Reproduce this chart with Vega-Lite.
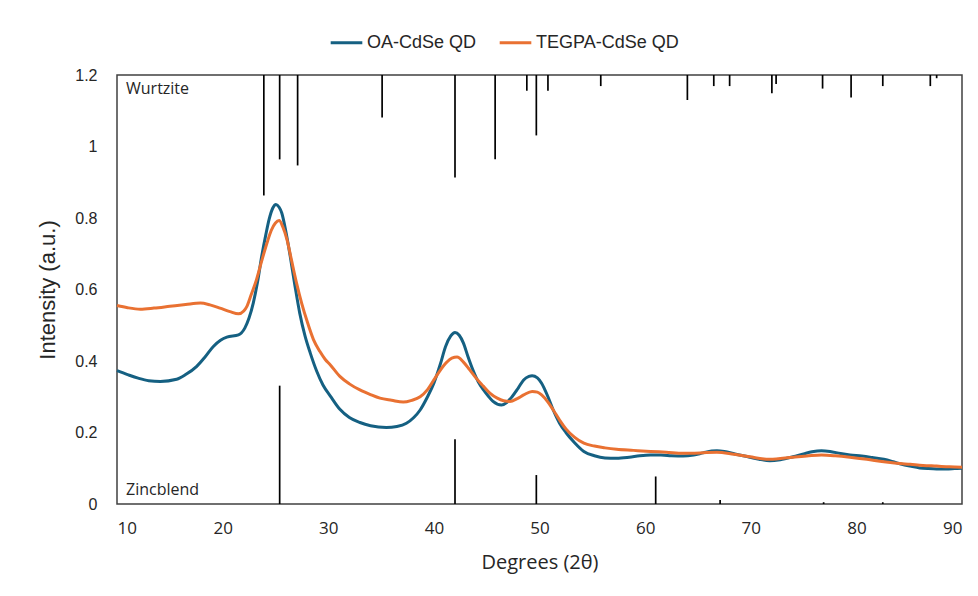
{
  "$schema": "https://vega.github.io/schema/vega-lite/v6.json",
  "width": 845,
  "height": 429,
  "autosize": {"type": "none"},
  "padding": {"left": 117, "top": 75, "right": 16, "bottom": 92},
  "background": "white",
  "config": {
    "view": {"stroke": "#404040", "strokeWidth": 1.5},
    "axis": {"grid": false, "ticks": false, "domain": false}
  },
  "datasets": {
    "curves": [
      {"series": "OA-CdSe QD", "deg": 10, "val": 0.373},
      {"series": "OA-CdSe QD", "deg": 11, "val": 0.362},
      {"series": "OA-CdSe QD", "deg": 12, "val": 0.352},
      {"series": "OA-CdSe QD", "deg": 13, "val": 0.345},
      {"series": "OA-CdSe QD", "deg": 14.1, "val": 0.343},
      {"series": "OA-CdSe QD", "deg": 15.65, "val": 0.349},
      {"series": "OA-CdSe QD", "deg": 16.5, "val": 0.362},
      {"series": "OA-CdSe QD", "deg": 17.55, "val": 0.385},
      {"series": "OA-CdSe QD", "deg": 18.3, "val": 0.41},
      {"series": "OA-CdSe QD", "deg": 19.1, "val": 0.44},
      {"series": "OA-CdSe QD", "deg": 19.8, "val": 0.458},
      {"series": "OA-CdSe QD", "deg": 20.4, "val": 0.467},
      {"series": "OA-CdSe QD", "deg": 21.5, "val": 0.473},
      {"series": "OA-CdSe QD", "deg": 22.1, "val": 0.492},
      {"series": "OA-CdSe QD", "deg": 22.5, "val": 0.52},
      {"series": "OA-CdSe QD", "deg": 22.9, "val": 0.562},
      {"series": "OA-CdSe QD", "deg": 23.3, "val": 0.62},
      {"series": "OA-CdSe QD", "deg": 23.7, "val": 0.693},
      {"series": "OA-CdSe QD", "deg": 24.1, "val": 0.755},
      {"series": "OA-CdSe QD", "deg": 24.4, "val": 0.796},
      {"series": "OA-CdSe QD", "deg": 24.75, "val": 0.828},
      {"series": "OA-CdSe QD", "deg": 25.05, "val": 0.838},
      {"series": "OA-CdSe QD", "deg": 25.35, "val": 0.83},
      {"series": "OA-CdSe QD", "deg": 25.6, "val": 0.814},
      {"series": "OA-CdSe QD", "deg": 26.0, "val": 0.76},
      {"series": "OA-CdSe QD", "deg": 26.4, "val": 0.693},
      {"series": "OA-CdSe QD", "deg": 26.85, "val": 0.61},
      {"series": "OA-CdSe QD", "deg": 27.3, "val": 0.534},
      {"series": "OA-CdSe QD", "deg": 27.8, "val": 0.47},
      {"series": "OA-CdSe QD", "deg": 28.3, "val": 0.422},
      {"series": "OA-CdSe QD", "deg": 28.9, "val": 0.372},
      {"series": "OA-CdSe QD", "deg": 29.5, "val": 0.333},
      {"series": "OA-CdSe QD", "deg": 30.2, "val": 0.302},
      {"series": "OA-CdSe QD", "deg": 31.1, "val": 0.265},
      {"series": "OA-CdSe QD", "deg": 32, "val": 0.242},
      {"series": "OA-CdSe QD", "deg": 33, "val": 0.228},
      {"series": "OA-CdSe QD", "deg": 34, "val": 0.219},
      {"series": "OA-CdSe QD", "deg": 35.5, "val": 0.214},
      {"series": "OA-CdSe QD", "deg": 36.5, "val": 0.217},
      {"series": "OA-CdSe QD", "deg": 37.4, "val": 0.226},
      {"series": "OA-CdSe QD", "deg": 38.1, "val": 0.242},
      {"series": "OA-CdSe QD", "deg": 38.7, "val": 0.263},
      {"series": "OA-CdSe QD", "deg": 39.4, "val": 0.3},
      {"series": "OA-CdSe QD", "deg": 40.0, "val": 0.338},
      {"series": "OA-CdSe QD", "deg": 40.6, "val": 0.39},
      {"series": "OA-CdSe QD", "deg": 41.1, "val": 0.44},
      {"series": "OA-CdSe QD", "deg": 41.6, "val": 0.47},
      {"series": "OA-CdSe QD", "deg": 42.0, "val": 0.48},
      {"series": "OA-CdSe QD", "deg": 42.4, "val": 0.472},
      {"series": "OA-CdSe QD", "deg": 42.8, "val": 0.45},
      {"series": "OA-CdSe QD", "deg": 43.2, "val": 0.415},
      {"series": "OA-CdSe QD", "deg": 43.7, "val": 0.375},
      {"series": "OA-CdSe QD", "deg": 44.2, "val": 0.342},
      {"series": "OA-CdSe QD", "deg": 44.7, "val": 0.319},
      {"series": "OA-CdSe QD", "deg": 45.2, "val": 0.3},
      {"series": "OA-CdSe QD", "deg": 45.6, "val": 0.287},
      {"series": "OA-CdSe QD", "deg": 46.4, "val": 0.277},
      {"series": "OA-CdSe QD", "deg": 46.9, "val": 0.284},
      {"series": "OA-CdSe QD", "deg": 47.4, "val": 0.3},
      {"series": "OA-CdSe QD", "deg": 48.0, "val": 0.325},
      {"series": "OA-CdSe QD", "deg": 48.5, "val": 0.347},
      {"series": "OA-CdSe QD", "deg": 49.0, "val": 0.357},
      {"series": "OA-CdSe QD", "deg": 49.3, "val": 0.359},
      {"series": "OA-CdSe QD", "deg": 49.8, "val": 0.353},
      {"series": "OA-CdSe QD", "deg": 50.2, "val": 0.338},
      {"series": "OA-CdSe QD", "deg": 50.8, "val": 0.3},
      {"series": "OA-CdSe QD", "deg": 51.3, "val": 0.263},
      {"series": "OA-CdSe QD", "deg": 51.9, "val": 0.226},
      {"series": "OA-CdSe QD", "deg": 52.5, "val": 0.2},
      {"series": "OA-CdSe QD", "deg": 53.3, "val": 0.172},
      {"series": "OA-CdSe QD", "deg": 54.2, "val": 0.147},
      {"series": "OA-CdSe QD", "deg": 55.2, "val": 0.135},
      {"series": "OA-CdSe QD", "deg": 56.2, "val": 0.129},
      {"series": "OA-CdSe QD", "deg": 57.3, "val": 0.128},
      {"series": "OA-CdSe QD", "deg": 58.5, "val": 0.131},
      {"series": "OA-CdSe QD", "deg": 59.5, "val": 0.135},
      {"series": "OA-CdSe QD", "deg": 60.5, "val": 0.137},
      {"series": "OA-CdSe QD", "deg": 61.5, "val": 0.137},
      {"series": "OA-CdSe QD", "deg": 62.5, "val": 0.135},
      {"series": "OA-CdSe QD", "deg": 63.6, "val": 0.134},
      {"series": "OA-CdSe QD", "deg": 64.6, "val": 0.137},
      {"series": "OA-CdSe QD", "deg": 65.5, "val": 0.143},
      {"series": "OA-CdSe QD", "deg": 66.3, "val": 0.148},
      {"series": "OA-CdSe QD", "deg": 66.8, "val": 0.149},
      {"series": "OA-CdSe QD", "deg": 67.5, "val": 0.147},
      {"series": "OA-CdSe QD", "deg": 68.5, "val": 0.14},
      {"series": "OA-CdSe QD", "deg": 69.9, "val": 0.131},
      {"series": "OA-CdSe QD", "deg": 70.8, "val": 0.125},
      {"series": "OA-CdSe QD", "deg": 71.8, "val": 0.121},
      {"series": "OA-CdSe QD", "deg": 72.8, "val": 0.124},
      {"series": "OA-CdSe QD", "deg": 74.0, "val": 0.132},
      {"series": "OA-CdSe QD", "deg": 75.0, "val": 0.14},
      {"series": "OA-CdSe QD", "deg": 75.8, "val": 0.146},
      {"series": "OA-CdSe QD", "deg": 76.7, "val": 0.149},
      {"series": "OA-CdSe QD", "deg": 77.5, "val": 0.147},
      {"series": "OA-CdSe QD", "deg": 78.5, "val": 0.141},
      {"series": "OA-CdSe QD", "deg": 79.4, "val": 0.137},
      {"series": "OA-CdSe QD", "deg": 80.5, "val": 0.134},
      {"series": "OA-CdSe QD", "deg": 81.5, "val": 0.13},
      {"series": "OA-CdSe QD", "deg": 82.6, "val": 0.125},
      {"series": "OA-CdSe QD", "deg": 83.5, "val": 0.118},
      {"series": "OA-CdSe QD", "deg": 84.3, "val": 0.111},
      {"series": "OA-CdSe QD", "deg": 85.1, "val": 0.106},
      {"series": "OA-CdSe QD", "deg": 86.0, "val": 0.101},
      {"series": "OA-CdSe QD", "deg": 86.8, "val": 0.099},
      {"series": "OA-CdSe QD", "deg": 87.6, "val": 0.098},
      {"series": "OA-CdSe QD", "deg": 88.5, "val": 0.098},
      {"series": "OA-CdSe QD", "deg": 89.3, "val": 0.099},
      {"series": "OA-CdSe QD", "deg": 90, "val": 0.1},
      {"series": "TEGPA-CdSe QD", "deg": 10, "val": 0.555},
      {"series": "TEGPA-CdSe QD", "deg": 11, "val": 0.549},
      {"series": "TEGPA-CdSe QD", "deg": 12.2, "val": 0.545},
      {"series": "TEGPA-CdSe QD", "deg": 13.5, "val": 0.548},
      {"series": "TEGPA-CdSe QD", "deg": 15.0, "val": 0.553},
      {"series": "TEGPA-CdSe QD", "deg": 16.5, "val": 0.558},
      {"series": "TEGPA-CdSe QD", "deg": 17.9, "val": 0.562},
      {"series": "TEGPA-CdSe QD", "deg": 18.8, "val": 0.557},
      {"series": "TEGPA-CdSe QD", "deg": 19.75, "val": 0.548},
      {"series": "TEGPA-CdSe QD", "deg": 20.7, "val": 0.538},
      {"series": "TEGPA-CdSe QD", "deg": 21.5, "val": 0.532},
      {"series": "TEGPA-CdSe QD", "deg": 22.0, "val": 0.54},
      {"series": "TEGPA-CdSe QD", "deg": 22.3, "val": 0.553},
      {"series": "TEGPA-CdSe QD", "deg": 22.7, "val": 0.585},
      {"series": "TEGPA-CdSe QD", "deg": 23.2, "val": 0.627},
      {"series": "TEGPA-CdSe QD", "deg": 23.7, "val": 0.68},
      {"series": "TEGPA-CdSe QD", "deg": 24.2, "val": 0.73},
      {"series": "TEGPA-CdSe QD", "deg": 24.6, "val": 0.765},
      {"series": "TEGPA-CdSe QD", "deg": 25.0, "val": 0.786},
      {"series": "TEGPA-CdSe QD", "deg": 25.35, "val": 0.793},
      {"series": "TEGPA-CdSe QD", "deg": 25.7, "val": 0.775},
      {"series": "TEGPA-CdSe QD", "deg": 26.1, "val": 0.739},
      {"series": "TEGPA-CdSe QD", "deg": 26.5, "val": 0.685},
      {"series": "TEGPA-CdSe QD", "deg": 27.0, "val": 0.618},
      {"series": "TEGPA-CdSe QD", "deg": 27.5, "val": 0.56},
      {"series": "TEGPA-CdSe QD", "deg": 28.0, "val": 0.511},
      {"series": "TEGPA-CdSe QD", "deg": 28.6, "val": 0.46},
      {"series": "TEGPA-CdSe QD", "deg": 29.2, "val": 0.427},
      {"series": "TEGPA-CdSe QD", "deg": 29.7, "val": 0.405},
      {"series": "TEGPA-CdSe QD", "deg": 30.2, "val": 0.389},
      {"series": "TEGPA-CdSe QD", "deg": 31.1, "val": 0.357},
      {"series": "TEGPA-CdSe QD", "deg": 32, "val": 0.336},
      {"series": "TEGPA-CdSe QD", "deg": 33.0, "val": 0.319},
      {"series": "TEGPA-CdSe QD", "deg": 34.0, "val": 0.306},
      {"series": "TEGPA-CdSe QD", "deg": 34.9, "val": 0.296},
      {"series": "TEGPA-CdSe QD", "deg": 36.0, "val": 0.29},
      {"series": "TEGPA-CdSe QD", "deg": 37.1, "val": 0.285},
      {"series": "TEGPA-CdSe QD", "deg": 37.9, "val": 0.29},
      {"series": "TEGPA-CdSe QD", "deg": 38.7, "val": 0.3},
      {"series": "TEGPA-CdSe QD", "deg": 39.4, "val": 0.32},
      {"series": "TEGPA-CdSe QD", "deg": 40.0, "val": 0.347},
      {"series": "TEGPA-CdSe QD", "deg": 40.6, "val": 0.374},
      {"series": "TEGPA-CdSe QD", "deg": 41.2, "val": 0.396},
      {"series": "TEGPA-CdSe QD", "deg": 41.7, "val": 0.408},
      {"series": "TEGPA-CdSe QD", "deg": 42.2, "val": 0.411},
      {"series": "TEGPA-CdSe QD", "deg": 42.8, "val": 0.397},
      {"series": "TEGPA-CdSe QD", "deg": 43.4, "val": 0.375},
      {"series": "TEGPA-CdSe QD", "deg": 44.0, "val": 0.352},
      {"series": "TEGPA-CdSe QD", "deg": 44.7, "val": 0.329},
      {"series": "TEGPA-CdSe QD", "deg": 45.3, "val": 0.31},
      {"series": "TEGPA-CdSe QD", "deg": 46.0, "val": 0.296},
      {"series": "TEGPA-CdSe QD", "deg": 46.6, "val": 0.289},
      {"series": "TEGPA-CdSe QD", "deg": 47.2, "val": 0.287},
      {"series": "TEGPA-CdSe QD", "deg": 47.9, "val": 0.295},
      {"series": "TEGPA-CdSe QD", "deg": 48.5, "val": 0.305},
      {"series": "TEGPA-CdSe QD", "deg": 49.3, "val": 0.315},
      {"series": "TEGPA-CdSe QD", "deg": 49.8, "val": 0.313},
      {"series": "TEGPA-CdSe QD", "deg": 50.2, "val": 0.305},
      {"series": "TEGPA-CdSe QD", "deg": 50.8, "val": 0.285},
      {"series": "TEGPA-CdSe QD", "deg": 51.3, "val": 0.263},
      {"series": "TEGPA-CdSe QD", "deg": 51.9, "val": 0.235},
      {"series": "TEGPA-CdSe QD", "deg": 52.5, "val": 0.21},
      {"series": "TEGPA-CdSe QD", "deg": 53.3, "val": 0.187},
      {"series": "TEGPA-CdSe QD", "deg": 54.2, "val": 0.17},
      {"series": "TEGPA-CdSe QD", "deg": 55.2, "val": 0.162},
      {"series": "TEGPA-CdSe QD", "deg": 56.2, "val": 0.157},
      {"series": "TEGPA-CdSe QD", "deg": 57.3, "val": 0.153},
      {"series": "TEGPA-CdSe QD", "deg": 58.9, "val": 0.15},
      {"series": "TEGPA-CdSe QD", "deg": 60.5, "val": 0.147},
      {"series": "TEGPA-CdSe QD", "deg": 62, "val": 0.145},
      {"series": "TEGPA-CdSe QD", "deg": 63.6, "val": 0.142},
      {"series": "TEGPA-CdSe QD", "deg": 65.2, "val": 0.143},
      {"series": "TEGPA-CdSe QD", "deg": 66.8, "val": 0.145},
      {"series": "TEGPA-CdSe QD", "deg": 68.4, "val": 0.139},
      {"series": "TEGPA-CdSe QD", "deg": 69.9, "val": 0.132},
      {"series": "TEGPA-CdSe QD", "deg": 71.8, "val": 0.125},
      {"series": "TEGPA-CdSe QD", "deg": 74.0, "val": 0.131},
      {"series": "TEGPA-CdSe QD", "deg": 75.5, "val": 0.135},
      {"series": "TEGPA-CdSe QD", "deg": 76.7, "val": 0.137},
      {"series": "TEGPA-CdSe QD", "deg": 78, "val": 0.135},
      {"series": "TEGPA-CdSe QD", "deg": 79.4, "val": 0.131},
      {"series": "TEGPA-CdSe QD", "deg": 81, "val": 0.125},
      {"series": "TEGPA-CdSe QD", "deg": 82.6, "val": 0.118},
      {"series": "TEGPA-CdSe QD", "deg": 83.8, "val": 0.114},
      {"series": "TEGPA-CdSe QD", "deg": 85.1, "val": 0.111},
      {"series": "TEGPA-CdSe QD", "deg": 86.3, "val": 0.108},
      {"series": "TEGPA-CdSe QD", "deg": 87.6, "val": 0.106},
      {"series": "TEGPA-CdSe QD", "deg": 88.8, "val": 0.104},
      {"series": "TEGPA-CdSe QD", "deg": 90, "val": 0.103}
    ],
    "peaks": [
      {"phase": "Wurtzite", "deg": 23.9, "base": 1.2, "tip": 0.863},
      {"phase": "Wurtzite", "deg": 25.4, "base": 1.2, "tip": 0.964},
      {"phase": "Wurtzite", "deg": 27.1, "base": 1.2, "tip": 0.947},
      {"phase": "Wurtzite", "deg": 35.1, "base": 1.2, "tip": 1.081},
      {"phase": "Wurtzite", "deg": 42.0, "base": 1.2, "tip": 0.913},
      {"phase": "Wurtzite", "deg": 45.8, "base": 1.2, "tip": 0.964},
      {"phase": "Wurtzite", "deg": 48.8, "base": 1.2, "tip": 1.156},
      {"phase": "Wurtzite", "deg": 49.7, "base": 1.2, "tip": 1.031},
      {"phase": "Wurtzite", "deg": 50.8, "base": 1.2, "tip": 1.156},
      {"phase": "Wurtzite", "deg": 55.8, "base": 1.2, "tip": 1.169},
      {"phase": "Wurtzite", "deg": 64.0, "base": 1.2, "tip": 1.13},
      {"phase": "Wurtzite", "deg": 66.5, "base": 1.2, "tip": 1.169},
      {"phase": "Wurtzite", "deg": 68.0, "base": 1.2, "tip": 1.169},
      {"phase": "Wurtzite", "deg": 72.0, "base": 1.2, "tip": 1.149},
      {"phase": "Wurtzite", "deg": 72.4, "base": 1.2, "tip": 1.175},
      {"phase": "Wurtzite", "deg": 76.8, "base": 1.2, "tip": 1.162},
      {"phase": "Wurtzite", "deg": 79.5, "base": 1.2, "tip": 1.137},
      {"phase": "Wurtzite", "deg": 82.5, "base": 1.2, "tip": 1.169},
      {"phase": "Wurtzite", "deg": 87.0, "base": 1.2, "tip": 1.169},
      {"phase": "Wurtzite", "deg": 87.6, "base": 1.2, "tip": 1.191},
      {"phase": "Zincblend", "deg": 25.4, "base": 0, "tip": 0.331},
      {"phase": "Zincblend", "deg": 42.0, "base": 0, "tip": 0.181},
      {"phase": "Zincblend", "deg": 49.7, "base": 0, "tip": 0.081},
      {"phase": "Zincblend", "deg": 61.0, "base": 0, "tip": 0.077},
      {"phase": "Zincblend", "deg": 67.1, "base": 0, "tip": 0.011},
      {"phase": "Zincblend", "deg": 76.9, "base": 0, "tip": 0.005},
      {"phase": "Zincblend", "deg": 82.5, "base": 0, "tip": 0.005}
    ],
    "labels": [
      {"label": "Wurtzite", "deg": 10, "val": 1.16},
      {"label": "Zincblend", "deg": 10, "val": 0.039}
    ]
  },
  "encoding": {
    "x": {
      "field": "deg", "type": "quantitative",
      "scale": {"domain": [10, 90], "nice": false},
      "axis": {
        "title": "Degrees (2θ)",
        "values": [10, 20, 30, 40, 50, 60, 70, 80, 90],
        "labelFont": "Open Sans", "labelFontSize": 17, "labelColor": "#262626",
        "labelPadding": 16,
        "titleFont": "Open Sans", "titleFontSize": 20, "titleFontWeight": "normal", "titleColor": "#262626",
        "titlePadding": 16
      }
    }
  },
  "layer": [
    {
      "data": {"name": "peaks"},
      "mark": {"type": "rule", "color": "#000000", "strokeWidth": 1.7},
      "encoding": {
        "y": {"field": "base", "type": "quantitative",
          "scale": {"domain": [0, 1.2], "nice": false},
          "axis": {
            "title": "Intensity (a.u.)",
            "values": [0, 0.2, 0.4, 0.6, 0.8, 1, 1.2],
            "format": ".1~f",
            "labelFont": "Liberation Sans", "labelFontSize": 16, "labelColor": "#262626",
            "labelPadding": 20,
            "titleFont": "Liberation Sans", "titleFontSize": 22, "titleFontWeight": "normal", "titleColor": "#262626",
            "titlePadding": 15
          }},
        "y2": {"field": "tip"}
      }
    },
    {
      "data": {"name": "curves"},
      "mark": {"type": "line", "strokeWidth": 3, "interpolate": "monotone"},
      "encoding": {
        "y": {"field": "val", "type": "quantitative"},
        "color": {
          "field": "series", "type": "nominal",
          "scale": {"domain": ["OA-CdSe QD", "TEGPA-CdSe QD"], "range": ["#156082", "#E97132"]},
          "legend": {
            "title": null, "orient": "none", "direction": "horizontal",
            "legendX": 212, "legendY": -50,
            "symbolType": "stroke", "symbolStrokeWidth": 3, "symbolSize": 1000,
            "labelFont": "Liberation Sans", "labelFontSize": 18, "labelColor": "#262626",
            "columnPadding": 16, "labelOffset": 3
          }
        }
      }
    },
    {
      "data": {"name": "labels"},
      "mark": {"type": "text", "align": "left", "baseline": "middle", "dx": 9, "font": "Open Sans", "fontSize": 16, "color": "#262626"},
      "encoding": {
        "y": {"field": "val", "type": "quantitative"},
        "text": {"field": "label"}
      }
    }
  ]
}
